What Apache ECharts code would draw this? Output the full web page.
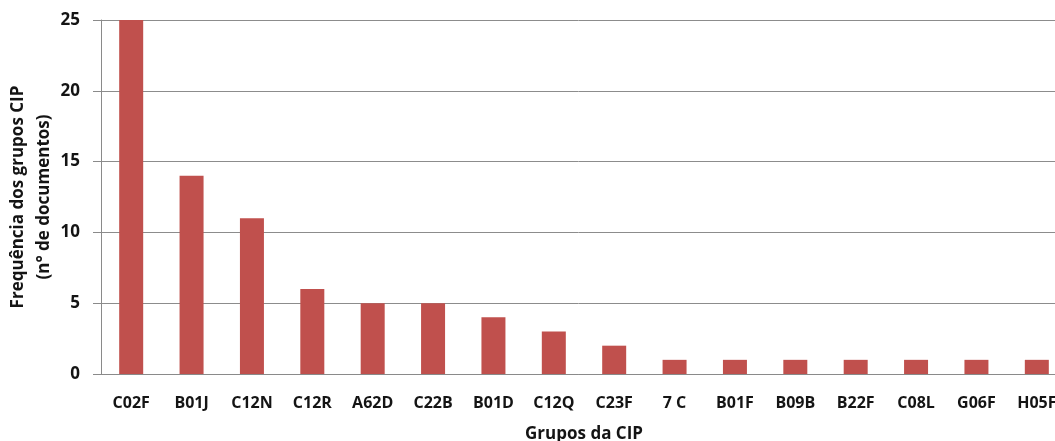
<!DOCTYPE html>
<html>
<head>
<meta charset="utf-8">
<script src="https://cdn.jsdelivr.net/npm/echarts@6/dist/echarts.min.js"></script>
<style>
  html, body { margin: 0; padding: 0; background: #fff; overflow: hidden; }
  #chart { width: 1055px; height: 441px; }
</style>
</head>
<body>
<div id="chart"></div>
<script>
// IPC groups and how many documents fall into each
const categories = ['C02F', 'B01J', 'C12N', 'C12R', 'A62D', 'C22B', 'B01D', 'C12Q', 'C23F', '7 C', 'B01F', 'B09B', 'B22F', 'C08L', 'G06F', 'H05F'];
const frequencies = [25, 14, 11, 6, 5, 5, 4, 3, 2, 1, 1, 1, 1, 1, 1, 1];

const FONT = '"Open Sans", "Liberation Sans", sans-serif';
const TEXT = '#141414';
const chart = echarts.init(document.getElementById('chart'), null, { renderer: 'canvas' });

chart.setOption({
  animation: false,
  backgroundColor: '#ffffff',
  // plot area runs slightly past the right edge of the canvas
  grid: { left: 101, top: 20, width: 966, height: 354, containLabel: false, outerBoundsMode: 'none' },
  xAxis: {
    type: 'category',
    data: categories,
    name: 'Grupos da CIP',
    nameLocation: 'middle',
    nameGap: 52,
    nameTextStyle: { fontFamily: FONT, fontWeight: 'bold', fontSize: 17, color: TEXT },
    axisLine: { lineStyle: { color: '#8a8a8a', width: 1 } },
    axisTick: { show: false },
    axisLabel: { fontFamily: FONT, fontWeight: 'bold', fontSize: 16, color: TEXT, margin: 21, interval: 0 }
  },
  yAxis: {
    type: 'value',
    min: 0,
    max: 25,
    interval: 5,
    name: 'Frequência dos grupos CIP\n(n° de documentos)',
    nameLocation: 'middle',
    nameGap: 44,
    nameMoveOverlap: false,
    nameRotate: 90,
    nameTextStyle: { fontFamily: FONT, fontWeight: 'bold', fontSize: 17, color: TEXT, lineHeight: 26 },
    axisLine: { show: true, lineStyle: { color: '#8a8a8a', width: 1 } },
    axisTick: { show: true, length: 8, lineStyle: { color: '#8a8a8a' } },
    splitLine: { lineStyle: { color: '#8c8c8c', width: 1 } },
    axisLabel: { fontFamily: FONT, fontWeight: 'bold', fontSize: 17, color: TEXT, margin: 21 }
  },
  series: [{
    type: 'bar',
    data: frequencies,
    barWidth: 24,
    itemStyle: { color: '#C0504D' }
  }]
});
</script>
</body>
</html>
